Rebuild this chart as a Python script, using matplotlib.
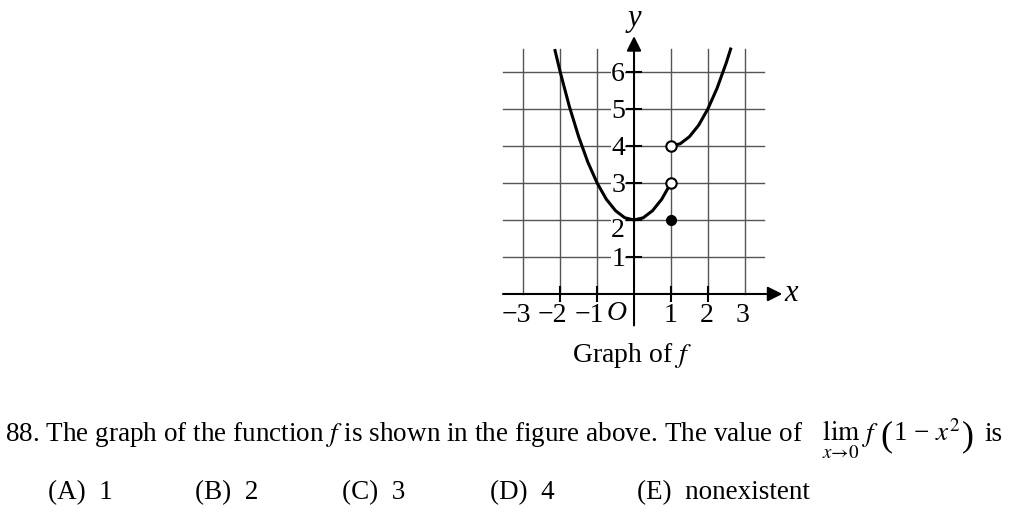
import numpy as np
import matplotlib.pyplot as plt

plt.rcParams['font.family'] = ['Liberation Serif', 'DejaVu Serif']
plt.rcParams['mathtext.fontset'] = 'stix'

# pieces of f
izq_x = [-2.15, -2.0, -1.75, -1.5, -1.25, -1.0, -0.75, -0.5, -0.25, 0.0, 0.25, 0.5, 0.75, 1.0]
izq_y = [6.62, 6.0, 5.06, 4.25, 3.56, 3.0, 2.56, 2.25, 2.06, 2.0, 2.06, 2.25, 2.56, 3.0]
der_x = [1.0, 1.25, 1.5, 1.75, 2.0, 2.25, 2.5, 2.63]
der_y = [4.0, 4.06, 4.25, 4.56, 5.0, 5.56, 6.25, 6.66]

abiertos_x = [1, 1]
abiertos_y = [4, 3]
lleno_x = [1]
lleno_y = [2]

xticks = [-3, -2, -1, 1, 2, 3]
yticks = [1, 2, 3, 4, 5, 6]
xlab_txt = ['\u22123', '\u22122', '\u22121', '1', '2', '3']

opciones = ['(A)  1', '(B)  2', '(C)  3', '(D)  4', '(E)  nonexistent']
opciones_x = [48, 195, 342, 490, 637]

fig = plt.figure(figsize=(10.23, 5.17), dpi=100)
W, H = 1023, 517

#* ejes del grafico, misma escala en x e y
ax = fig.add_axes([0.4899, 0.3598, 0.2922, 0.6226])
ax.set_xlim(-3.6, 4.5)
ax.set_ylim(-1.0, 7.7)
ax.axis('off')

gris = '#555555'
for xv in xticks:
    ax.plot([xv, xv], [0, 6.62], color=gris, lw=1.0, zorder=1)
for yv in yticks:
    ax.plot([-3.55, 3.53], [yv, yv], color=gris, lw=1.0, zorder=1)

#* ejes con flecha
flecha = dict(arrowstyle='-|>', lw=1.5, color='k', mutation_scale=22, shrinkA=0, shrinkB=0)
ax.annotate('', xy=(4.02, 0), xytext=(-3.55, 0), arrowprops=flecha, zorder=3)
ax.annotate('', xy=(0, 6.97), xytext=(0, -0.85), arrowprops=flecha, zorder=3)

for xv in [-2, -1, 1, 2]:
    ax.plot([xv, xv], [-0.18, 0.18], color='k', lw=1.5, zorder=3)
for yv in yticks:
    ax.plot([-0.18, 0.18], [yv, yv], color='k', lw=1.5, zorder=3)

#* etiquetas
caja = dict(facecolor='white', edgecolor='none', pad=0.3)
xlab_pos = [-3.18, -2.2, -1.22, 1.0, 1.97, 2.94]
for p, t in zip(xlab_pos, xlab_txt):
    ax.text(p, -0.57, t, ha='center', va='center', fontsize=20, bbox=caja, zorder=2)
ax.text(-0.47, -0.53, 'O', ha='center', va='center', fontsize=20, style='italic', zorder=2)

for yv in yticks:
    yy = 1.72 if yv == 2 else yv - 0.08
    ax.text(-0.43, yy, str(yv), ha='center', va='center', fontsize=20, bbox=caja, zorder=2)

ax.text(4.25, 0.0, 'x', ha='center', va='center', fontsize=22, style='italic')
ax.text(0.0, 7.45, 'y', ha='center', va='center', fontsize=22, style='italic')

#* la funcion
ax.plot(izq_x, izq_y, color='k', lw=2.2, zorder=4, solid_capstyle='butt')
ax.plot(der_x, der_y, color='k', lw=2.2, zorder=4, solid_capstyle='butt')
ax.plot(abiertos_x, abiertos_y, 'o', ms=7.5, mfc='white', mec='k', mew=1.5, zorder=5)
ax.plot(lleno_x, lleno_y, 'o', ms=7, mfc='k', mec='k', zorder=5)

#* textos de la pregunta
fig.text(632 / W, 1 - 362 / H, 'Graph of $f$', ha='center', va='baseline', fontsize=20)

ren = fig.canvas.get_renderer()
base = 441
fs = 19.5
fin = [0]


def poner(texto, x, tam=fs, dy=0):
    # no dejar que un trozo pise al anterior
    x = max(x, fin[0] + 1)
    t = fig.text(x / W, 1 - (base + dy) / H, texto, ha='left', va='baseline', fontsize=tam)
    fin[0] = t.get_window_extent(ren).x1


poner('88. The graph of the function $f$ is shown in the figure above. The value of', 5)
poner(r'$\lim_{x\to 0}$', 822)
poner('$f$', 862)
poner('(', 875, tam=26, dy=4)
poner('1 \u2212 $x^{2}$', 889)
poner(')', 956, tam=26, dy=4)
poner('is', 984)

for px, t in zip(opciones_x, opciones):
    fig.text(px / W, 1 - 499 / H, t, ha='left', va='baseline', fontsize=fs)

fig.savefig('out.png', dpi=100)
